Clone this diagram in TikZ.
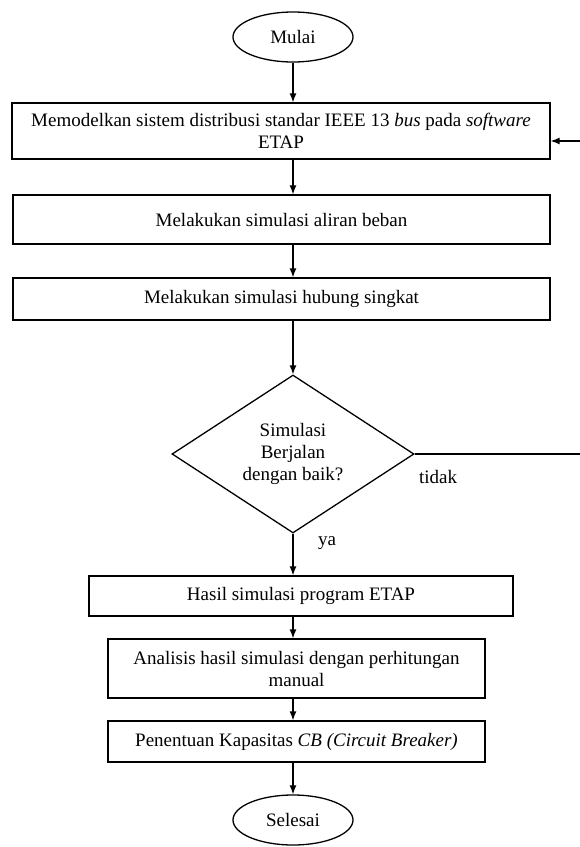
\documentclass[tikz,border=0pt]{standalone}
\usepackage{fontspec}
\setmainfont{Liberation Serif}
\usetikzlibrary{shapes.geometric,arrows.meta}

\begin{document}
\begin{tikzpicture}
  [x=1pt,y=-1pt,>={Latex[length=9pt,width=7pt]},line width=1.3pt,
   every node/.style={font=\fontsize{19}{22}\selectfont,align=center,inner sep=0pt},
   box/.style={draw,rectangle,minimum width=#1},
   term/.style={draw,ellipse,minimum width=120,minimum height=50},
   cond/.style={draw,diamond,aspect=1.53,minimum width=242,minimum height=158}]
  \useasboundingbox (0,0) rectangle (579,847);

  \node[term] (mulai) at (293,37) {Mulai};
  \node[box=538,minimum height=56] (model) at (281,131)
    {Memodelkan sistem distribusi standar IEEE 13 \textit{bus} pada \textit{software}\\ETAP};
  \node[box=537,minimum height=49] (aliran) at (281.5,219.5) {Melakukan simulasi aliran beban};
  \node[box=537,minimum height=42] (hubung) at (281.5,299) {Melakukan simulasi hubung singkat};
  \node[cond] (cek) at (293,454) {Simulasi\\Berjalan\\dengan baik?};
  \node[box=424,minimum height=40] (hasil) at (301,596) {Hasil simulasi program ETAP};
  \node[box=377,minimum height=59] (analisis) at (296.5,668.5)
    {Analisis hasil simulasi dengan perhitungan\\manual};
  \node[box=377,minimum height=41] (tentu) at (296.5,741.5)
    {Penentuan Kapasitas \textit{CB (Circuit Breaker)}};
  \node[term] (selesai) at (293,820) {Selesai};

  \node (tidak) at (438,477) {tidak};
  \node (ya) at (327,543) {ya};
  \coordinate (balik) at (584,141);

  \foreach \from/\to in {mulai/model,model/aliran,aliran/hubung,hubung/cek,
                         cek/hasil,hasil/analisis,analisis/tentu,tentu/selesai}
    \draw[->] (\from.south -| mulai) -- (\to.north -| mulai);

  \draw[->] (cek.east) -| (balik) -- (model.east |- balik);

\end{tikzpicture}
\end{document}
